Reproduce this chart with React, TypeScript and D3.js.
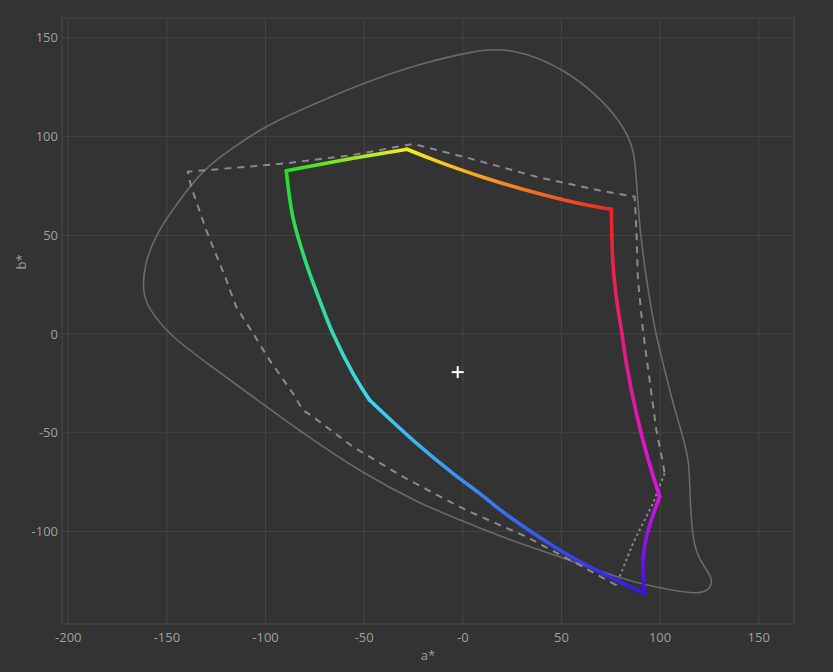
import React from "react";
import * as d3 from "d3";

const W = 833;
const H = 672;

const xTicks = [-200, -150, -100, -50, 0, 50, 100, 150];
const xTickLabels = ["-200", "-150", "-100", "-50", "-0", "50", "100", "150"];
const yTicks = [150, 100, 50, 0, -50, -100];
const yTickLabels = ["150", "100", "50", "0", "-50", "-100"];

// Outer (spectral locus) curve, a*/b*
const locusA = [17.0, 8.5, -21.9, -50.7, -72.6, -99.6, -118.3, -131.8, -143.6, -155.4, -161.4, -162.5, -158.8, -148.7, -131.8, -106.4, -81.1, -50.7, -21.9, -1.6, 23.7, 49.1, 79.5, 99.8, 116.7, 123.5, 126.4, 126.0, 120.1, 116.7, 115.0, 115.0, 111.6, 106.5, 101.5, 97.3, 93.1, 89.7, 88.0, 87.1, 82.9, 71.0, 54.2, 37.3, 25.4];
const locusB = [144.2, 143.9, 137.1, 127.0, 117.7, 105.9, 93.2, 83.1, 67.9, 51.0, 35.8, 20.6, 12.2, -0.5, -13.2, -31.8, -50.3, -70.6, -85.8, -94.2, -104.4, -112.8, -123.8, -128.8, -131.6, -130.6, -127.0, -122.9, -114.5, -106.0, -82.4, -65.5, -52.0, -35.1, -14.8, 2.0, 27.4, 52.7, 78.0, 91.5, 103.3, 118.5, 132.1, 140.5, 143.5];

// Dashed gamut polygon (open dashed part + dotted closing part)
const dashA = [77.8, 57.6, 32.2, 3.4, -5.0, -30.4, -55.7, -76.0, -81.1, -86.2, -98.0, -106.4, -114.9, -119.9, -130.1, -137.7, -139.4, -89.5, -55.7, -25.3, 3.4, 37.3, 71.0, 87.1, 88.0, 88.8, 91.3, 94.7, 98.1, 101.5, 102.3];
const dashB = [-127.2, -116.2, -102.7, -90.0, -85.8, -72.3, -57.1, -41.9, -38.5, -30.0, -13.2, 0.4, 13.8, 27.4, 52.7, 74.6, 82.2, 86.5, 90.7, 96.3, 89.0, 79.7, 72.4, 69.6, 52.7, 27.4, 2.0, -23.3, -48.6, -65.5, -70.6];
const dotA = [102.3, 96.4, 86.3, 79.5, 77.8];
const dotB = [-70.6, -85.8, -106.0, -122.9, -127.2];

// Coloured gamut boundary
const gamutA = [75.3, 64.3, 50.3, 30.0, 12.2, -3.0, -15.7, -28.3, -55.7, -89.5, -86.2, -79.4, -72.6, -65.9, -55.7, -47.3, -25.3, -5.0, 8.5, 23.7, 49.1, 74.4, 92.2, 91.3, 93.1, 99.8, 93.1, 88.0, 82.9, 80.4, 77.8, 76.1, 75.3];
const gamutB = [63.2, 65.1, 68.2, 73.5, 78.8, 83.9, 88.6, 93.6, 89.0, 82.7, 59.4, 35.8, 17.2, 0.4, -19.9, -33.4, -53.7, -70.6, -80.7, -92.6, -109.4, -123.0, -131.4, -116.2, -102.7, -82.4, -60.4, -40.2, -14.8, 2.0, 18.9, 35.8, 63.2];
const cornerIdx = [0, 7, 9, 15, 22, 25, 32];
const cornerColors = ["#f02424", "#f6ee22", "#22e022", "#3ed8f4", "#3414ee", "#dc12e6", "#f02424"];

const whitePoint = [-2.6, -19.3];

const left = 62, right = 794, top = 18, bottom = 624;

export default function App() {
  const x = d3.scaleLinear().domain([-203.2, 167.9]).range([left, right]);
  const y = d3.scaleLinear().domain([-146.9, 160.1]).range([bottom, top]);

  const locusPts: [number, number][] = locusA.map((a, i) => [x(a), y(locusB[i])]);
  const dashPts: [number, number][] = dashA.map((a, i) => [x(a), y(dashB[i])]);
  const dotPts: [number, number][] = dotA.map((a, i) => [x(a), y(dotB[i])]);
  const locusPath = d3.line().curve(d3.curveBasisClosed)(locusPts) || "";
  const dashPath = d3.line()(dashPts) || "";
  const dotPath = d3.line()(dotPts) || "";

  const edgeLine = d3.line().curve(d3.curveCatmullRom.alpha(0.5));
  const edges = [];
  for (let e = 0; e < cornerIdx.length - 1; e++) {
    const s = cornerIdx[e], t = cornerIdx[e + 1];
    const pts: [number, number][] = [];
    for (let i = s; i <= t; i++) pts.push([x(gamutA[i]), y(gamutB[i])]);
    edges.push({ pts, c0: cornerColors[e], c1: cornerColors[e + 1], d: edgeLine(pts) || "" });
  }

  const wx = x(whitePoint[0]), wy = y(whitePoint[1]);
  const font = "'Open Sans', 'Noto Sans', sans-serif";

  return (
    <svg width={W} height={H} style={{ position: "absolute", left: 0, top: 0, background: "#333333" }}>
      <rect x={0} y={0} width={W} height={H} fill="#333333" />
      <defs>
        {edges.map((e, i) => (
          <linearGradient key={i} id={"g" + i} gradientUnits="userSpaceOnUse"
            x1={e.pts[0][0]} y1={e.pts[0][1]} x2={e.pts[e.pts.length - 1][0]} y2={e.pts[e.pts.length - 1][1]}>
            <stop offset="0" stopColor={e.c0} />
            <stop offset="1" stopColor={e.c1} />
          </linearGradient>
        ))}
        <clipPath id="plot"><rect x={left} y={top} width={right - left} height={bottom - top} /></clipPath>
      </defs>
      {xTicks.map((t) => (
        <line key={"gx" + t} x1={x(t)} x2={x(t)} y1={top} y2={bottom} stroke="#454545" strokeWidth={1} />
      ))}
      {yTicks.map((t) => (
        <line key={"gy" + t} x1={left} x2={right} y1={y(t)} y2={y(t)} stroke="#454545" strokeWidth={1} />
      ))}
      <rect x={left} y={top} width={right - left} height={bottom - top} fill="none" stroke="#484848" strokeWidth={1} />
      {xTicks.map((t, i) => (
        <text key={"tx" + t} x={x(t)} y={642} textAnchor="middle" fill="#a0a0a0" fontSize={13} fontFamily={font}>{xTickLabels[i]}</text>
      ))}
      {yTicks.map((t, i) => (
        <text key={"ty" + t} x={58} y={y(t) + 4.5} textAnchor="end" fill="#a0a0a0" fontSize={13} fontFamily={font}>{yTickLabels[i]}</text>
      ))}
      <text x={(left + right) / 2} y={660} textAnchor="middle" fill="#a0a0a0" fontSize={13} fontFamily={font}>a*</text>
      <text transform={`translate(26,262) rotate(-90)`} textAnchor="middle" fill="#a0a0a0" fontSize={13} fontFamily={font}>b*</text>
      <g clipPath="url(#plot)">
        <path d={locusPath} fill="none" stroke="#6a6a6a" strokeWidth={1.6} />
        <path d={dashPath} fill="none" stroke="#8a8a8a" strokeWidth={2} strokeDasharray="7,6" />
        <path d={dotPath} fill="none" stroke="#8a8a8a" strokeWidth={2} strokeDasharray="2.5,3" />
        {edges.map((e, i) => (
          <path key={"e" + i} d={e.d} fill="none" stroke={`url(#g${i})`} strokeWidth={3.6} strokeLinejoin="round" strokeLinecap="round" />
        ))}
        <line x1={wx - 6} x2={wx + 6} y1={wy} y2={wy} stroke="#ffffff" strokeWidth={2} />
        <line x1={wx} x2={wx} y1={wy - 6} y2={wy + 6} stroke="#ffffff" strokeWidth={2} />
      </g>
    </svg>
  );
}
